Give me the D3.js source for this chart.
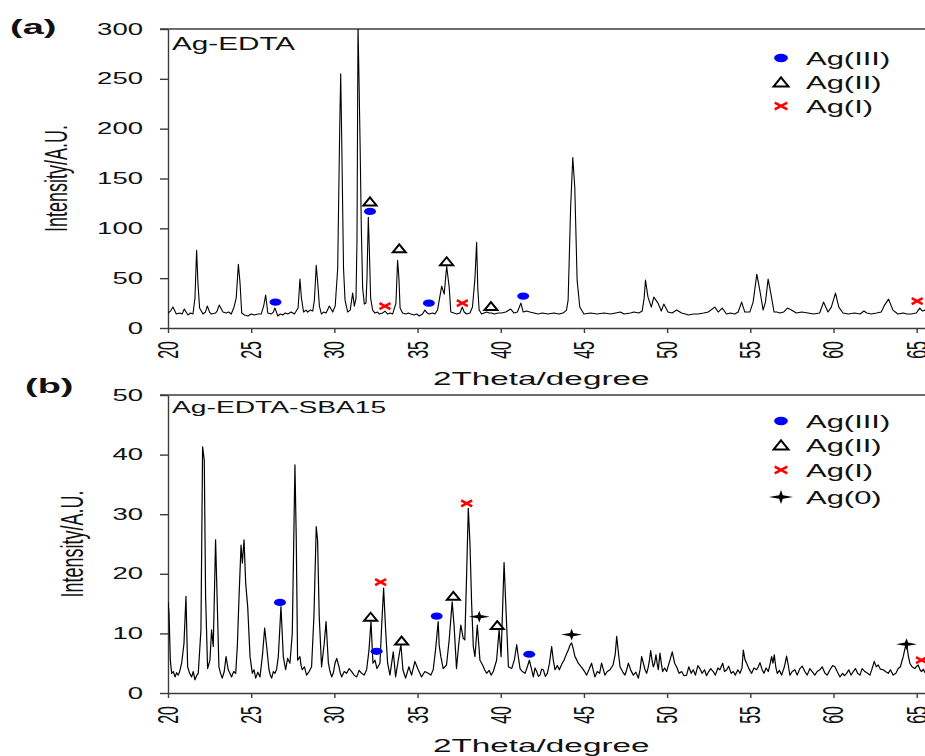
<!DOCTYPE html>
<html>
<head>
<meta charset="utf-8">
<script src="https://cdn.jsdelivr.net/npm/d3@7/dist/d3.min.js"></script>
<style>
  body { margin: 0; background: #fff; }
  svg { display: block; }
  text { font-family: "Liberation Sans", Arial, sans-serif; fill: #111; }
</style>
</head>
<body>
<div id="chart"></div>
<script>

// Tick values shared by both panels.
var xTicks  = [20, 25, 30, 35, 40, 45, 50, 55, 60, 65];
var yTicksA = [0, 50, 100, 150, 200, 250, 300];
var yTicksB = [0, 10, 20, 30, 40, 50];

var legendA = ["Ag(III)", "Ag(II)", "Ag(I)"];
var legendB = ["Ag(III)", "Ag(II)", "Ag(I)", "Ag(0)"];

// Pattern (a) Ag-EDTA: [2theta, intensity].
var patternA = [[20.0,15],[20.15,17],[20.3,21],[20.5,14],[20.7,15],[20.85,14],[20.98,19],[21.2,13],[21.35,15],
  [21.5,14],[21.62,30],[21.72,78],[21.8,45],[21.9,20],[22.1,14],[22.25,16],[22.36,22],[22.5,16],[22.6,14],
  [22.85,15],[22.95,17],[23.08,23],[23.3,16],[23.5,15],[23.65,16],[23.8,14],[23.95,20],[24.1,30],[24.23,64],
  [24.33,45],[24.43,15],[24.6,13],[24.8,12],[25.0,14],[25.2,13],[25.4,14],[25.6,14],[25.75,22],[25.87,33],
  [26.0,15],[26.2,14],[26.33,16],[26.43,20],[26.6,12],[26.75,14],[26.9,13],[27.05,15],[27.2,14],[27.4,16],
  [27.6,14],[27.82,20],[27.93,49],[28.02,30],[28.15,16],[28.3,18],[28.4,16],[28.55,18],[28.7,17],[28.8,28],
  [28.91,63],[29.0,45],[29.1,22],[29.22,14],[29.35,16],[29.5,15],[29.7,22],[29.9,16],[30.05,22],[30.2,60],
  [30.32,200],[30.38,255],[30.45,180],[30.55,60],[30.64,28],[30.8,16],[30.95,18],[31.1,35],[31.2,22],[31.3,30],
  [31.36,88],[31.42,305],[31.48,250],[31.55,180],[31.62,100],[31.7,40],[31.8,24],[31.9,25],[31.96,50],
  [32.04,111],[32.1,80],[32.18,30],[32.3,18],[32.44,15],[32.6,16],[32.7,14],[32.9,15],[33.04,17],[33.2,14],
  [33.35,15],[33.5,14],[33.7,25],[33.8,68],[33.88,50],[33.95,20],[34.1,15],[34.3,14],[34.45,15],[34.6,14],
  [34.8,13],[34.95,14],[35.1,12],[35.3,14],[35.44,18],[35.58,15],[35.7,14],[35.9,15],[36.05,14],[36.2,18],
  [36.45,42],[36.6,34],[36.75,62],[36.9,41],[37.0,16],[37.18,15],[37.36,14],[37.55,15],[37.69,21],[37.8,16],
  [37.95,14],[38.15,15],[38.3,21],[38.45,50],[38.55,86],[38.62,40],[38.7,18],[38.85,14],[39.0,15],[39.15,16],
  [39.3,15],[39.45,15],[39.6,14],[39.85,15],[40.05,15],[40.3,16],[40.6,19],[40.8,15],[41.0,16],[41.21,25],
  [41.35,16],[41.55,17],[41.75,16],[42.0,15],[42.25,14],[42.5,15],[42.85,14],[43.2,15],[43.5,14],[43.75,15],
  [43.95,18],[44.05,28],[44.2,121],[44.33,171],[44.45,141],[44.59,48],[44.75,21],[45.0,14],[45.4,15],[45.8,14],
  [46.2,15],[46.6,14],[46.9,15],[47.2,16],[47.4,14],[47.8,15],[48.0,16],[48.3,15],[48.5,17],[48.62,30],
  [48.7,48],[48.85,31],[49.05,21],[49.2,31],[49.45,25],[49.65,17],[49.8,24],[50.05,16],[50.3,15],[50.57,18],
  [50.87,15],[51.1,14],[51.27,13],[51.6,14],[51.87,14],[52.2,15],[52.47,16],[52.87,21],[53.07,16],[53.31,20],
  [53.57,14],[53.8,15],[54.07,14],[54.27,16],[54.48,26],[54.67,16],[54.97,16],[55.17,26],[55.39,54],[55.57,38],
  [55.77,18],[55.91,26],[56.07,49],[56.23,35],[56.43,16],[56.6,16],[56.77,15],[57.0,16],[57.23,20],[57.47,18],
  [57.77,15],[58.1,16],[58.47,15],[58.8,14],[59.17,15],[59.4,26],[59.67,16],[59.87,21],[60.12,35],[60.32,21],
  [60.57,15],[60.9,14],[61.27,15],[61.6,14],[61.83,17],[62.0,15],[62.27,14],[62.6,15],[62.87,16],[63.07,23],
  [63.31,29],[63.57,18],[63.87,14],[64.2,15],[64.4,14],[64.67,14],[64.97,15],[65.19,20],[65.35,17],[65.5,18]];

// Pattern (b) Ag-EDTA-SBA15: [2theta, intensity].
var patternB = [[20.0,15.3],[20.06,13.4],[20.14,5.5],[20.22,3.3],[20.32,3.6],[20.42,2.7],[20.52,3.4],[20.62,3.0],
  [20.72,3.8],[20.82,5.0],[20.96,8.3],[21.08,16.2],[21.18,4.4],[21.3,3.3],[21.42,2.7],[21.52,3.6],[21.62,2.2],
  [21.72,2.9],[21.82,3.3],[21.98,10.6],[22.08,41.3],[22.18,39.1],[22.26,16.2],[22.38,4.1],[22.52,5.5],
  [22.62,10.6],[22.72,7.8],[22.86,25.7],[22.94,17.3],[23.06,4.4],[23.16,3.3],[23.26,2.5],[23.38,3.6],[23.49,6.1],
  [23.62,3.9],[23.72,3.3],[23.82,2.7],[23.95,3.6],[24.07,3.3],[24.17,8.0],[24.27,16.2],[24.39,24.8],[24.47,21.8],
  [24.57,25.7],[24.67,18.4],[24.79,14.5],[24.93,6.1],[25.07,3.3],[25.17,3.9],[25.27,2.5],[25.4,3.5],[25.53,2.7],
  [25.69,6.7],[25.81,10.9],[25.93,7.8],[26.07,3.9],[26.15,3.0],[26.23,2.5],[26.33,3.6],[26.43,3.3],[26.53,4.0],
  [26.63,6.1],[26.79,14.5],[26.93,6.1],[27.07,3.9],[27.19,5.8],[27.33,5.0],[27.47,10.0],[27.63,38.3],[27.71,25.7],
  [27.79,5.5],[27.93,6.1],[28.0,4.6],[28.07,3.9],[28.2,4.4],[28.33,3.0],[28.48,3.6],[28.63,4.4],[28.77,12.8],
  [28.91,27.9],[28.99,25.7],[29.09,12.8],[29.23,4.4],[29.39,8.3],[29.5,12.0],[29.64,5.0],[29.74,3.6],[29.84,2.7],
  [29.94,3.4],[30.04,5.0],[30.14,5.8],[30.28,4.4],[30.36,3.3],[30.44,2.7],[30.59,3.6],[30.74,3.3],[30.89,4.1],
  [31.04,3.6],[31.19,3.0],[31.34,2.7],[31.49,3.8],[31.64,3.3],[31.79,3.0],[31.94,3.9],[32.08,7.2],[32.2,12.0],
  [32.32,5.0],[32.44,5.5],[32.56,4.1],[32.74,5.0],[32.84,11.1],[32.96,17.6],[33.08,10.6],[33.2,5.0],[33.34,3.0],
  [33.54,6.9],[33.68,2.7],[33.84,5.5],[34.0,8.1],[34.12,3.9],[34.28,2.5],[34.48,4.4],[34.64,3.0],[34.84,5.3],
  [35.04,3.9],[35.24,2.7],[35.44,3.6],[35.64,3.3],[35.8,3.0],[35.94,3.9],[36.08,7.2],[36.24,12.0],[36.3,8.0],
  [36.4,6.1],[36.54,4.1],[36.74,4.7],[36.9,8.9],[37.08,15.3],[37.2,11.1],[37.34,4.1],[37.48,8.3],[37.6,11.4],
  [37.74,9.2],[37.84,8.9],[37.95,20.0],[38.05,31.0],[38.15,25.1],[38.25,15.0],[38.35,7.8],[38.45,6.1],
  [38.59,11.4],[38.75,5.5],[38.91,4.7],[39.03,3.9],[39.15,3.3],[39.3,3.8],[39.42,3.0],[39.55,3.6],[39.75,5.5],
  [39.9,10.6],[40.02,6.1],[40.2,21.9],[40.3,15.0],[40.46,4.4],[40.66,4.1],[40.82,5.6],[40.96,8.1],[41.06,6.0],
  [41.16,4.1],[41.3,3.6],[41.46,3.3],[41.6,4.4],[41.72,5.5],[41.85,4.0],[41.96,2.7],[42.06,4.2],[42.16,3.6],
  [42.26,2.8],[42.36,3.0],[42.46,4.0],[42.56,3.9],[42.68,2.8],[42.8,3.3],[42.93,5.0],[43.06,7.8],[43.16,5.5],
  [43.26,3.9],[43.4,4.6],[43.52,3.9],[43.66,4.8],[43.8,5.5],[43.93,6.4],[44.06,7.2],[44.16,8.0],[44.26,8.4],
  [44.36,7.4],[44.46,6.1],[44.56,5.6],[44.66,5.0],[44.8,4.5],[44.92,4.1],[45.04,3.6],[45.16,3.0],[45.3,3.9],
  [45.46,5.0],[45.56,3.8],[45.66,2.7],[45.8,3.6],[45.94,3.3],[46.06,5.0],[46.16,4.0],[46.26,3.0],[46.4,3.6],
  [46.57,3.9],[46.75,4.7],[46.88,6.5],[46.97,9.5],[47.07,6.8],[47.17,4.4],[47.32,3.6],[47.47,3.0],[47.57,3.9],
  [47.67,5.0],[47.82,3.8],[47.97,3.0],[48.12,3.5],[48.27,2.5],[48.38,4.0],[48.47,6.1],[48.57,5.0],[48.67,3.9],
  [48.77,3.3],[48.87,4.4],[48.94,5.5],[49.01,7.1],[49.09,5.6],[49.17,4.4],[49.25,5.0],[49.33,6.4],[49.4,5.0],
  [49.47,3.9],[49.57,6.7],[49.65,5.0],[49.73,3.6],[49.85,4.2],[49.97,3.6],[50.07,4.6],[50.17,5.5],[50.31,6.9],
  [50.45,5.0],[50.57,4.4],[50.72,3.3],[50.87,3.6],[51.02,2.9],[51.17,3.0],[51.3,4.4],[51.45,3.3],[51.57,3.9],
  [51.7,3.0],[51.85,4.6],[51.97,4.1],[52.1,3.3],[52.25,3.9],[52.37,2.9],[52.5,3.6],[52.62,4.1],[52.77,3.6],
  [52.9,3.0],[53.05,4.2],[53.17,3.9],[53.34,5.0],[53.45,3.6],[53.58,3.9],[53.7,4.5],[53.85,3.3],[53.98,3.6],
  [54.1,3.0],[54.25,3.9],[54.38,3.3],[54.5,4.2],[54.58,7.2],[54.68,5.6],[54.78,5.0],[54.93,4.0],[55.08,3.3],
  [55.22,4.2],[55.38,3.9],[55.48,4.4],[55.58,5.1],[55.7,4.0],[55.82,3.3],[55.95,4.2],[56.08,3.6],[56.2,5.0],
  [56.28,6.1],[56.36,5.0],[56.44,6.4],[56.53,4.4],[56.62,3.3],[56.75,3.8],[56.88,3.0],[57.05,4.4],[57.18,6.2],
  [57.28,4.7],[57.38,3.0],[57.52,3.6],[57.68,3.9],[57.82,3.0],[57.98,4.1],[58.12,4.5],[58.28,3.6],[58.42,3.0],
  [58.58,4.1],[58.72,3.6],[58.88,3.0],[59.02,3.6],[59.18,3.9],[59.32,4.4],[59.49,3.3],[59.62,3.0],[59.79,3.9],
  [59.95,4.6],[60.09,4.4],[60.22,3.6],[60.39,2.7],[60.55,3.3],[60.65,2.9],[60.79,3.3],[60.92,3.9],[61.05,3.0],
  [61.19,3.6],[61.32,4.1],[61.45,3.3],[61.59,3.0],[61.72,4.1],[61.89,3.6],[62.05,3.3],[62.19,3.0],[62.32,4.1],
  [62.45,5.3],[62.57,4.4],[62.69,4.7],[62.82,4.0],[62.99,3.9],[63.12,3.6],[63.29,3.3],[63.42,3.9],[63.59,3.0],
  [63.75,3.3],[63.89,4.1],[64.02,4.4],[64.19,6.1],[64.3,7.5],[64.39,8.3],[64.5,6.2],[64.59,5.0],[64.72,4.4],
  [64.89,4.1],[65.0,4.5],[65.09,4.7],[65.2,3.9],[65.29,3.6],[65.4,4.0],[65.5,3.4]];

// Peak assignments [2theta, intensity where the marker sits].
var ag3A = [[26.46, 26], [32.14, 117], [35.68, 25], [41.35, 32]];
var ag2A = [[32.14, 127], [33.9, 80], [36.75, 67], [39.41, 22]];
var ag1A = [[33.04, 22], [37.69, 25], [65.03, 27]];
var ag3B = [[26.73, 15.2], [32.54, 7.0], [36.15, 12.9], [41.71, 6.5]];
var ag2B = [[32.18, 12.8], [34.04, 8.8], [37.15, 16.3], [39.79, 11.4]];
var ag1B = [[32.78, 18.6], [37.95, 31.8], [65.29, 5.5]];
var ag0B = [[38.71, 12.8], [44.26, 9.8], [64.39, 8.2]];

var width = 925, height = 756;
var axisColor = "#3c3c3c";

var svg = d3.select("#chart").append("svg")
    .attr("width", width)
    .attr("height", height);

svg.append("rect").attr("width", width).attr("height", height).attr("fill", "#fff");

var x = d3.scaleLinear().domain([20, 65.5]).range([168, 925]);

// The figure is stretched sideways, so every text is scaled in x.
function label(g, str, px, py, size, sx, anchor, rot, weight) {
    return g.append("text")
        .attr("transform", "translate(" + px + "," + py + ") scale(" + sx + ",1)" + (rot ? " rotate(" + rot + ")" : ""))
        .attr("text-anchor", anchor || "start")
        .attr("font-size", size)
        .attr("font-weight", weight || "normal")
        .text(str);
}

// Draw one marker symbol centred on (cx, cy).
function marker(g, type, cx, cy, k) {
    k = k || 1;
    if (type === "ag3") {
        g.append("ellipse").attr("cx", cx).attr("cy", cy)
            .attr("rx", 6 * k).attr("ry", 3.6 * k).attr("fill", "#0000ff");
    } else if (type === "ag2") {
        var w = 6.5 * k, h = 4 * k;
        g.append("path")
            .attr("d", "M" + (cx - w) + "," + (cy + h) + "L" + cx + "," + (cy - h) + "L" + (cx + w) + "," + (cy + h) + "Z")
            .attr("fill", "#fff").attr("stroke", "#000").attr("stroke-width", 2);
    } else if (type === "ag1") {
        var a = 5.5 * k, b = 3 * k;
        g.append("path")
            .attr("d", "M" + (cx - a) + "," + (cy - b) + "L" + (cx + a) + "," + (cy + b) +
                       "M" + (cx - a) + "," + (cy + b) + "L" + (cx + a) + "," + (cy - b))
            .attr("stroke", "#ff0000").attr("stroke-width", 2.6).attr("fill", "none");
    } else {
        var sw = 10.5 * k, sh = 6 * k, c = 1.6 * k;
        g.append("path")
            .attr("d", "M" + (cx - sw) + "," + cy + "L" + (cx - c) + "," + (cy - c) + "L" + cx + "," + (cy - sh) +
                       "L" + (cx + c) + "," + (cy - c) + "L" + (cx + sw) + "," + cy + "L" + (cx + c) + "," + (cy + c) +
                       "L" + cx + "," + (cy + sh) + "L" + (cx - c) + "," + (cy + c) + "Z")
            .attr("fill", "#000");
    }
}

function drawPanel(p) {
    var y = d3.scaleLinear().domain([0, p.yMax]).range([p.bottom, p.top]);
    var g = svg.append("g");

    // clip so the tallest peak stops at the frame
    g.append("clipPath").attr("id", p.id + "-clip")
      .append("rect").attr("x", 168).attr("y", p.top).attr("width", width - 168).attr("height", p.bottom - p.top);

    // top frame line
    g.append("line")
        .attr("x1", 160).attr("x2", width).attr("y1", p.top).attr("y2", p.top)
        .attr("stroke", axisColor).attr("stroke-width", 1.4);

    var yAxis = g.append("g").attr("transform", "translate(168,0)")
        .call(d3.axisLeft(y).tickValues(p.yTicks).tickSize(8).tickSizeOuter(0).tickFormat(""));
    var xAxis = g.append("g").attr("transform", "translate(0," + p.bottom + ")")
        .call(d3.axisBottom(x).tickValues(xTicks).tickSize(5).tickSizeOuter(0).tickFormat(""));
    [yAxis, xAxis].forEach(function(a) {
        a.selectAll("path, line").attr("stroke", axisColor).attr("stroke-width", 1.4);
    });

    // tick labels
    p.yTicks.forEach(function(v) {
        label(g, v, 143, y(v) + 5.5, 16, 1.72, "end");
    });
    xTicks.forEach(function(v) {
        label(g, v, x(v) + 10, p.bottom + 13, 16, 1.8, "end", -90);
    });

    // axis titles
    label(g, "2Theta/degree", 433, p.bottom + p.xTitleDy, 18.5, 1.8, "start");
    label(g, "Intensity/A.U.", p.yTitleX, (p.top + p.bottom) / 2, 18, 1.78, "middle", -90);

    // panel letter and sample name
    label(g, p.letter, p.letterX, p.top + p.letterDy, 20, 1.9, "start", 0, "bold");
    label(g, p.name, 172, p.top + p.nameDy, p.nameSize, p.nameSx, "start");

    // the pattern
    var line = d3.line().x(function(d) { return x(d[0]); }).y(function(d) { return y(d[1]); });
    g.append("path")
        .datum(p.pattern)
        .attr("clip-path", "url(#" + p.id + "-clip)")
        .attr("d", line)
        .attr("fill", "none")
        .attr("stroke", "#000")
        .attr("stroke-width", p.lineW)
        .attr("stroke-linejoin", "round");

    // peak markers
    p.marks.forEach(function(m) {
        m.pts.forEach(function(d) { marker(g, m.type, x(d[0]), y(d[1]), 1); });
    });

    // legend
    p.legend.forEach(function(txt, i) {
        var ly = p.legendY[i];
        marker(g, p.marks[i].type, 781, ly, 1.15);
        label(g, txt, 806, ly + 6.5, 18, 1.72, "start");
    });
}

drawPanel({
    id: "a", top: 29, bottom: 328, yMax: 300, yTicks: yTicksA,
    pattern: patternA, lineW: 1.1,
    letter: "(a)", letterX: 10, letterDy: 5,
    name: "Ag-EDTA", nameDy: 21, nameSize: 18, nameSx: 1.65,
    xTitleDy: 57, yTitleX: 67,
    legend: legendA, legendY: [58, 82, 106],
    marks: [{type: "ag3", pts: ag3A}, {type: "ag2", pts: ag2A}, {type: "ag1", pts: ag1A}]
});

drawPanel({
    id: "b", top: 395, bottom: 693, yMax: 50, yTicks: yTicksB,
    pattern: patternB, lineW: 1.2,
    letter: "(b)", letterX: 25, letterDy: -2,
    name: "Ag-EDTA-SBA15", nameDy: 18, nameSize: 17, nameSx: 1.66,
    xTitleDy: 59, yTitleX: 83,
    legend: legendB, legendY: [421, 445, 470, 497],
    marks: [{type: "ag3", pts: ag3B}, {type: "ag2", pts: ag2B}, {type: "ag1", pts: ag1B}, {type: "ag0", pts: ag0B}]
});

</script>
</body>
</html>
